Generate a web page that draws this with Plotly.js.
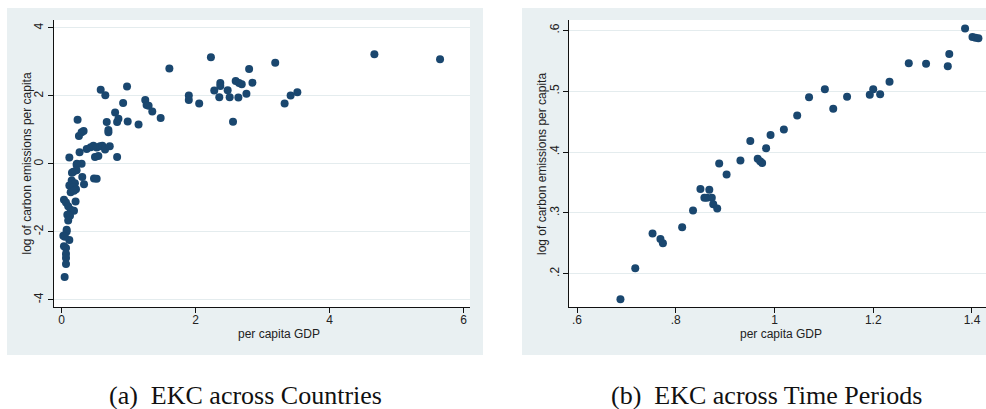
<!DOCTYPE html>
<html>
<head>
<meta charset="utf-8">
<script src="https://cdn.plot.ly/plotly-3.0.1.min.js"></script>
<style>html,body{margin:0;padding:0;background:#fff;}#chart{width:986px;height:409px;}</style>
</head>
<body>
<div id="chart"></div>
<script>
// Panel (a): EKC across Countries
const countryGDP = [4.67,5.65,2.23,3.19,1.61,2.80,2.37,2.37,2.60,2.65,2.69,2.85,2.28,2.48,2.355,2.51,2.64,2.76,2.56,1.90,1.90,2.055,3.33,3.42,3.52,
  0.585,0.654,0.978,1.25,1.27,1.30,1.355,1.48,1.15,0.988,0.92,0.80,0.83,0.85,0.675,0.70,0.70,0.24,0.26,0.30,0.33,
  0.27,0.376,0.436,0.476,0.525,0.575,0.61,0.65,0.72,0.117,0.83,0.50,0.55,0.485,0.525,
  0.23,0.30,0.225,0.176,0.225,0.156,0.31,0.336,0.152,0.20,0.117,0.176,0.216,0.137,0.186,
  0.21,0.037,0.067,0.10,0.137,0.186,0.087,0.127,0.10,0.077,0.077,0.027,0.117,0.05,0.037,0.067,0.067,0.067,0.067,0.047];
const countryCO2 = [3.23,3.08,3.14,2.98,2.81,2.79,2.38,2.29,2.44,2.38,2.34,2.39,2.16,2.17,1.96,1.96,1.95,2.06,1.24,2.01,1.88,1.78,1.78,2.01,2.11,
  2.18,2.02,2.28,1.88,1.73,1.71,1.54,1.35,1.16,1.25,1.79,1.51,1.235,1.33,1.235,1.0,0.93,1.30,0.82,0.93,0.97,
  0.34,0.44,0.49,0.53,0.48,0.52,0.53,0.42,0.52,0.19,0.20,0.20,0.23,-0.43,-0.44,
  0.0,0.0,-0.03,-0.23,-0.19,-0.26,-0.39,-0.60,-0.49,-0.57,-0.64,-0.69,-0.75,-0.84,-0.79,
  -1.11,-1.06,-1.14,-1.25,-1.35,-1.38,-1.50,-1.53,-1.67,-1.94,-1.99,-2.12,-2.24,-2.15,-2.43,-2.48,-2.65,-2.77,-2.95,-3.33];
// Panel (b): EKC across Time Periods
const periodGDP = [0.688,0.718,0.753,0.769,0.774,0.813,0.835,0.850,0.858,0.863,0.868,0.873,0.876,0.884,0.888,0.903,0.931,0.951,0.966,0.971,0.975,0.983,0.992,1.019,1.046,1.070,1.102,1.119,1.147,1.193,1.200,1.214,1.233,1.272,1.307,1.351,1.354,1.386,1.401,1.407,1.413];
const periodCO2 = [0.158,0.209,0.266,0.257,0.250,0.2765,0.304,0.339,0.325,0.325,0.338,0.325,0.314,0.307,0.381,0.363,0.386,0.418,0.389,0.385,0.382,0.406,0.428,0.437,0.460,0.490,0.503,0.471,0.491,0.494,0.503,0.495,0.5155,0.546,0.545,0.541,0.561,0.603,0.589,0.588,0.587];

const xTicksA = [0,2,4,6], xTextA = ['0','2','4','6'];
const yTicksA = [-4,-2,0,2,4], yTextA = ['-4','-2','0','2','4'];
const xTicksB = [0.6,0.8,1,1.2,1.4], xTextB = ['.6','.8','1','1.2','1.4'];
const yTicksB = [0.2,0.3,0.4,0.5,0.6], yTextB = ['.2','.3','.4','.5','.6'];
const xTitle = 'per capita GDP', yTitle = 'log of carbon emissions per capita';
const captions = ['(a)  EKC across Countries', '(b)  EKC across Time Periods'];

const W = 986, H = 409;
const px = v => v / W, py = v => 1 - v / H;
const navy = '#1a476f', panel = '#e9f0f2', grid = '#e4ecee';
const font = {family: 'Liberation Sans, Arial, sans-serif', size: 12, color: '#222'};
const capFont = {family: 'Liberation Serif, Times New Roman, serif', size: 26, color: '#111'};

const markerStyle = {color: navy, size: 8, line: {width: 0}};
const data = [
  {x: countryGDP, y: countryCO2, type: 'scatter', mode: 'markers', marker: markerStyle, xaxis: 'x', yaxis: 'y', hoverinfo: 'none'},
  {x: periodGDP, y: periodCO2, type: 'scatter', mode: 'markers', marker: markerStyle, xaxis: 'x2', yaxis: 'y2', hoverinfo: 'none'}
];

const axBase = {
  showline: true, linecolor: '#111', linewidth: 1, mirror: false,
  ticks: 'outside', ticklen: 5, tickwidth: 1, tickcolor: '#111',
  zeroline: false, tickfont: font, automargin: false, fixedrange: true
};
function ann(text, x, y, angle, f) {
  return {text: text, xref: 'paper', yref: 'paper', x: px(x), y: py(y), xanchor: 'center', yanchor: 'middle',
    showarrow: false, textangle: angle, font: f};
}
const layout = {
  width: W, height: H, margin: {l: 0, r: 0, t: 0, b: 0},
  paper_bgcolor: '#fff', plot_bgcolor: 'rgba(0,0,0,0)', showlegend: false,
  font: font,
  xaxis: Object.assign({}, axBase, {domain: [px(54), px(470)], range: [-0.112, 6.097], tickmode: 'array', tickvals: xTicksA, ticktext: xTextA, showgrid: false, anchor: 'y', ticklabelstandoff: -3}),
  yaxis: Object.assign({}, axBase, {domain: [py(307), py(20)], range: [-4.215, 4.235], tickmode: 'array', tickvals: yTicksA, ticktext: yTextA, tickangle: -90, showgrid: true, gridcolor: grid, gridwidth: 1, anchor: 'x'}),
  xaxis2: Object.assign({}, axBase, {domain: [px(569.3), 1], range: [0.5844, 1.4284], tickmode: 'array', tickvals: xTicksB, ticktext: xTextB, showgrid: false, anchor: 'y2', ticklabelstandoff: -3}),
  yaxis2: Object.assign({}, axBase, {domain: [py(307), py(20)], range: [0.1452, 0.617], tickmode: 'array', tickvals: yTicksB, ticktext: yTextB, tickangle: -90, showgrid: true, gridcolor: grid, gridwidth: 1, anchor: 'x2'}),
  shapes: [
    {type: 'rect', xref: 'paper', yref: 'paper', x0: px(7), x1: px(483), y0: py(355), y1: py(8), fillcolor: panel, line: {width: 0}, layer: 'below'},
    {type: 'rect', xref: 'paper', yref: 'paper', x0: px(522), x1: 1, y0: py(355), y1: py(8), fillcolor: panel, line: {width: 0}, layer: 'below'},
    {type: 'rect', xref: 'paper', yref: 'paper', x0: px(53.5), x1: px(470), y0: py(307), y1: py(20), fillcolor: '#fff', line: {width: 0}, layer: 'below'},
    {type: 'rect', xref: 'paper', yref: 'paper', x0: px(569), x1: 1, y0: py(307), y1: py(20), fillcolor: '#fff', line: {width: 0}, layer: 'below'}
  ],
  annotations: [
    ann(xTitle, 278.5, 333.5, 0, font),
    ann(yTitle, 27, 163.5, -90, font),
    ann(xTitle, 781, 334, 0, font),
    ann(yTitle, 542, 164, -90, font),
    ann(captions[0], 245, 395, 0, capFont),
    ann(captions[1], 766, 395, 0, capFont)
  ]
};
Plotly.newPlot('chart', data, layout, {displayModeBar: false, staticPlot: true});
</script>
</body>
</html>
